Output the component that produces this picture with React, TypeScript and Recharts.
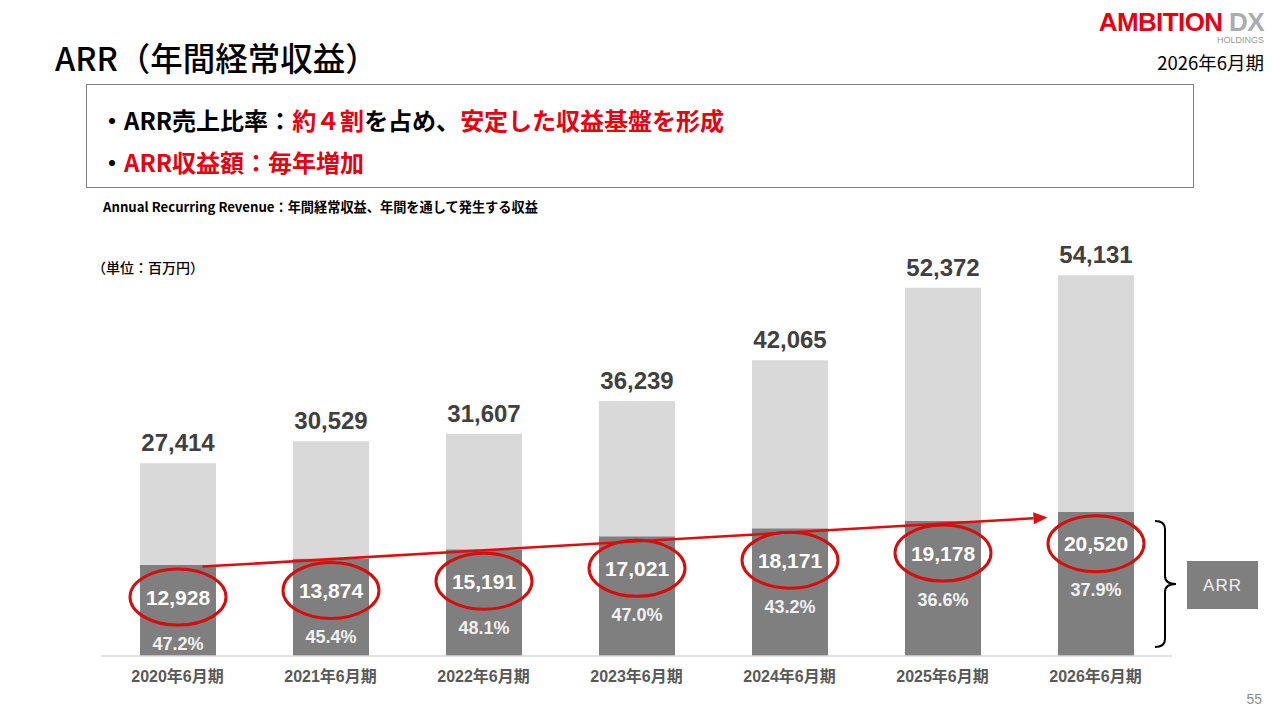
import { BarChart, Bar, XAxis, YAxis, LabelList, ReferenceLine } from 'recharts';

const periods = ['2020年6月期', '2021年6月期', '2022年6月期', '2023年6月期', '2024年6月期', '2025年6月期', '2026年6月期'];
const totalRevenue = [27414, 30529, 31607, 36239, 42065, 52372, 54131];
const arrRevenue = [12928, 13874, 15191, 17021, 18171, 19178, 20520];
const arrRatio = ['47.2%', '45.4%', '48.1%', '47.0%', '43.2%', '36.6%', '37.9%'];

const data = periods.map((period, i) => ({
  period,
  arr: arrRevenue[i],
  other: totalRevenue[i] - arrRevenue[i],
  total: totalRevenue[i],
}));

const NUM_FONT = '"Liberation Sans", Arial, "Noto Sans CJK JP", sans-serif';
const JP_FONT = '"Noto Sans CJK JP", "Liberation Sans", sans-serif';
const RED = '#e60012';

const fmt = (v: number) => v.toLocaleString('en-US');

const renderTotal = (props: any) => {
  const { x, y, width, index } = props;
  return (
    <text
      x={x + width / 2}
      y={y - 12}
      textAnchor="middle"
      fontFamily={NUM_FONT}
      fontWeight={700}
      fontSize={24}
      fill="#404040"
    >
      {fmt(totalRevenue[index])}
    </text>
  );
};

const renderArr = (props: any) => {
  const { x, y, width, index, value } = props;
  const cx = x + width / 2;
  const cy = y + 32;
  return (
    <g>
      <ellipse cx={cx} cy={cy} rx={48} ry={28} fill="none" stroke="#d70c0c" strokeWidth={3} />
      <text x={cx} y={cy} dy="0.36em" textAnchor="middle" fontFamily={NUM_FONT} fontWeight={700} fontSize={21} fill="#ffffff">
        {fmt(value)}
      </text>
      <text x={cx} y={cy + 46} dy="0.36em" textAnchor="middle" fontFamily={NUM_FONT} fontWeight={700} fontSize={18} fill="#f2f2f2">
        {arrRatio[index]}
      </text>
    </g>
  );
};

const ArrowShape = (props: any) => {
  const { x1, y1, x2, y2 } = props;
  const len = x2 - x1;
  const t0 = 25 / len;
  const t1 = 1 - 48 / len;
  const sx = x1 + (x2 - x1) * t0;
  const sy = y1 + (y2 - y1) * t0 + 3;
  const ex = x1 + (x2 - x1) * t1;
  const ey = y1 + (y2 - y1) * t1 + 3;
  const ang = Math.atan2(ey - sy, ex - sx);
  const hl = 14;
  const hw = 6;
  const bx = ex - hl * Math.cos(ang);
  const by = ey - hl * Math.sin(ang);
  const px = -Math.sin(ang) * hw;
  const py = Math.cos(ang) * hw;
  return (
    <g>
      <line x1={sx} y1={sy} x2={bx} y2={by} stroke="#e00d0d" strokeWidth={2.5} />
      <polygon points={`${ex},${ey} ${bx + px},${by + py} ${bx - px},${by - py}`} fill="#e00d0d" />
    </g>
  );
};

export default function App() {
  return (
    <div style={{ position: 'absolute', left: 0, top: 0, width: 1280, height: 720, background: '#fff', overflow: 'hidden' }}>
      {/* header */}
      <div style={{ position: 'absolute', left: 55, top: 36, fontFamily: JP_FONT, fontWeight: 500, fontSize: 32.5, lineHeight: '42px', color: '#000', whiteSpace: 'nowrap' }}>
        ARR（年間経常収益）
      </div>
      <div style={{ position: 'absolute', right: 16, top: 10, textAlign: 'right', fontFamily: NUM_FONT, lineHeight: 1 }}>
        <div style={{ fontSize: 26, fontWeight: 900, letterSpacing: -0.6, whiteSpace: 'nowrap', lineHeight: '24px' }}>
          <span style={{ color: RED }}>AMBITION</span>
          <span style={{ color: '#a9adb3' }}> DX</span>
        </div>
        <div style={{ fontSize: 9, color: '#9a9a9a', marginTop: 1, lineHeight: '10px' }}>HOLDINGS</div>
      </div>
      <div style={{ position: 'absolute', right: 16, top: 49, fontFamily: JP_FONT, fontSize: 18.5, lineHeight: '26px', color: '#000' }}>
        2026年6月期
      </div>

      {/* summary box */}
      <div style={{ position: 'absolute', left: 86, top: 84, width: 1108, height: 104, border: '1px solid #7f7f7f', boxSizing: 'border-box' }} />
      <div style={{ position: 'absolute', left: 100, top: 103, fontFamily: JP_FONT, fontWeight: 700, fontSize: 24, lineHeight: '34px', color: '#000', whiteSpace: 'nowrap' }}>
        ・ARR売上比率：<span style={{ color: RED }}>約４割</span>を占め、<span style={{ color: RED }}>安定した収益基盤を形成</span>
      </div>
      <div style={{ position: 'absolute', left: 100, top: 145, fontFamily: JP_FONT, fontWeight: 700, fontSize: 24, lineHeight: '34px', color: '#000', whiteSpace: 'nowrap' }}>
        ・<span style={{ color: RED }}>ARR収益額：毎年増加</span>
      </div>
      <div style={{ position: 'absolute', left: 103, top: 198, fontFamily: JP_FONT, fontWeight: 700, fontSize: 13.2, lineHeight: '18px', color: '#000', whiteSpace: 'nowrap' }}>
        Annual Recurring Revenue：年間経常収益、年間を通して発生する収益
      </div>
      <div style={{ position: 'absolute', left: 92, top: 257, fontFamily: JP_FONT, fontWeight: 500, fontSize: 14, lineHeight: '20px', color: '#000', whiteSpace: 'nowrap' }}>
        （単位：百万円）
      </div>

      <div style={{ position: 'absolute', left: 0, top: 0 }}>
        <BarChart
          width={1280}
          height={720}
          data={data}
          margin={{ top: 234, right: 108, bottom: 24, left: 101 }}
        >
          <XAxis
            dataKey="period"
            height={40}
            tickLine={false}
            axisLine={{ stroke: '#d9d9d9', strokeWidth: 1.5 }}
            tickMargin={9}
            tick={{ fill: '#595959', fontSize: 16, fontWeight: 700, fontFamily: NUM_FONT }}
          />
          <YAxis hide domain={[0, 60000]} />
          <Bar dataKey="arr" stackId="a" fill="#7f7f7f" barSize={76} isAnimationActive={false}>
            <LabelList dataKey="arr" content={renderArr} />
          </Bar>
          <Bar dataKey="other" stackId="a" fill="#d9d9d9" barSize={76} isAnimationActive={false}>
            <LabelList dataKey="total" content={renderTotal} />
          </Bar>
          <ReferenceLine
            segment={[
              { x: periods[0], y: arrRevenue[0] },
              { x: periods[periods.length - 1], y: arrRevenue[arrRevenue.length - 1] },
            ]}
            shape={ArrowShape}
          />
        </BarChart>
      </div>

      {/* ARR bracket */}
      <svg style={{ position: 'absolute', left: 0, top: 0 }} width={1280} height={720}>
        <path
          d="M1155,521 Q1165,521 1165,529 L1165,576 Q1165,584 1176,584 Q1165,584 1165,592 L1165,639 Q1165,647 1155,647"
          fill="none"
          stroke="#000"
          strokeWidth={2}
        />
        <rect x={1187} y={561} width={71} height={48} fill="#7f7f7f" />
        <text x={1222.5} y={585} dy="0.36em" textAnchor="middle" fontFamily={NUM_FONT} fontSize={17} letterSpacing={1} fill="#f2f2f2">
          ARR
        </text>
        <text x={1262} y={704} textAnchor="end" fontFamily={NUM_FONT} fontSize={14} fill="#8c8c8c">
          55
        </text>
      </svg>
    </div>
  );
}
